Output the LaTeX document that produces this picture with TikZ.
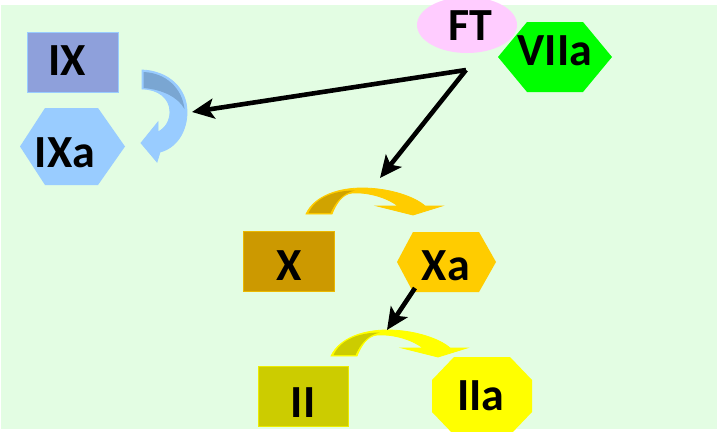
\documentclass[tikz,border=0pt]{standalone}
\usepackage{fontspec}
\setmainfont{Carlito}
\usetikzlibrary{arrows.meta}
\definecolor{bg}{RGB}{227,253,227}
\definecolor{ixc}{RGB}{142,160,219}
\definecolor{ixac}{RGB}{153,204,255}
\definecolor{ftc}{RGB}{255,204,255}
\definecolor{viic}{RGB}{0,255,0}
\definecolor{xc}{RGB}{204,153,0}
\definecolor{xac}{RGB}{255,204,0}
\definecolor{iic}{RGB}{204,204,0}
\definecolor{iiac}{RGB}{255,255,0}
\definecolor{bluedark}{RGB}{122,166,210}
\definecolor{oradark}{RGB}{208,163,0}
\definecolor{yeldark}{RGB}{204,204,0}
\newcommand\myCurveArrow[3]{%
  \begin{scope}[shift={#1}]
    \filldraw[fill=#3, draw=#3, line width=0.8pt] (0,0) .. controls (9,-19) and (34,-26) .. (56,-26)
      .. controls (84,-26) and (109,-17) .. (119,-8) -- (136,-8) -- (107,1) -- (71,-8) -- (92,-8)
      .. controls (79,-18) and (59,-22) .. (46,-21) .. controls (36,-20) and (30,-10) .. (26,0) -- cycle;
    \fill[#2] (2.5,-1) .. controls (10,-17) and (29,-23.5) .. (49,-23.5)
      .. controls (36,-21) and (29,-11) .. (24.5,-1) -- cycle;
  \end{scope}}
\begin{document}
\begin{tikzpicture}[x=1pt,y=-1pt,
  lbl/.style={font=\fontsize{46}{50}\selectfont\bfseries, inner sep=0pt, anchor=base},
  conn/.style={line width=4.6pt, -{Stealth[length=22pt,width=20pt,inset=5pt]}}]
\useasboundingbox (0,0) rectangle (717,431);
\fill[bg] (1,5) rectangle (717,429);
% shapes
\filldraw[fill=ixc, draw=ixac, line width=0.8pt] (27,32) rectangle (118,92);
\fill[ixac] (20,146.5) -- (45,108) -- (98,108) -- (125,146.5) -- (98,185) -- (45,185) -- cycle;
\fill[ftc] (467,25) ellipse [x radius=50, y radius=28];
\fill[viic] (498,57) -- (527,22) -- (583,22) -- (612,57) -- (583,92) -- (527,92) -- cycle;
\filldraw[fill=xc, draw=xac!60!xc, line width=0.8pt] (243,231) rectangle (334,291);
\fill[xac] (397,262) -- (413,232) -- (479,232) -- (496,262) -- (479,292) -- (413,292) -- cycle;
\filldraw[fill=iic, draw=iiac!60!iic, line width=0.8pt] (258,366) rectangle (348,426);
\begin{scope}
\clip (0,0) rectangle (717,431);
\fill[iiac] (432,380) -- (454,357) -- (510,357) -- (532,380) -- (532,412) -- (510,435) -- (454,435) -- (432,412) -- cycle;
\end{scope}
% curved arrows
\filldraw[fill=ixac, draw=ixac, line width=0.8pt] (142,70) .. controls (168,71) and (187,88) .. (187,112)
  .. controls (187,132) and (176,148) .. (160,152) -- (157,162) -- (141,143) -- (158,122) -- (158,132)
  .. controls (166,128) and (170,120) .. (170,112) .. controls (170,98) and (158,89) .. (142,89) -- cycle;
\fill[bluedark] (143.5,72) .. controls (166,73) and (182,88) .. (184.5,109) .. controls (178,97) and (162,89.5) .. (143.5,88) -- cycle;
\myCurveArrow{(306,214)}{oradark}{xac}
\myCurveArrow{(331,356)}{yeldark}{iiac}
% labels
\node[lbl] (ix) at (67,75) {IX};
\node[lbl] (ixa) at (65,167) {IXa};
\node[lbl] (ft) at (470,40) {FT};
\node[lbl] (viia) at (555,65) {VIIa};
\node[lbl] (x) at (289,280) {X};
\node[lbl] (xa) at (446,280) {Xa};
\node[lbl] (ii) at (303,417) {II};
\node[lbl] (iia) at (481,410) {IIa};
% connectors
\coordinate (src) at (466,70);
\coordinate (ixtip) at (192,112);
\coordinate (xtip) at (380,178);
\coordinate (xasrc) at (415,288);
\coordinate (iitip) at (387,330);
\draw[conn, line cap=butt] (src) -- (ixtip);
\draw[conn] (src) -- (xtip);
\draw[conn] (xasrc) -- (iitip);
\end{tikzpicture}
\end{document}
